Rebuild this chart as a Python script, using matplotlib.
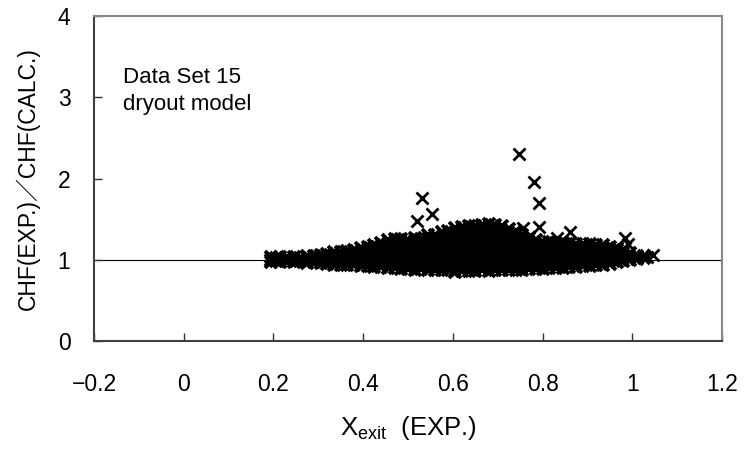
import matplotlib
matplotlib.use("Agg")
import matplotlib.pyplot as plt

plt.rcParams['font.family'] = ['Liberation Sans', 'Noto Sans CJK JP', 'DejaVu Sans']
plt.rcParams['mathtext.default'] = 'regular'

# ---- data ----
cloud_left = [
    (0.195, [0.97, 1.00, 1.03]),
    (0.205, [0.98, 1.02]),
    (0.215, [0.97, 1.00, 1.03]),
    (0.23, [0.98, 1.01, 1.03]),
    (0.245, [0.97, 1.00, 1.04]),
    (0.26, [0.98, 1.02]),
    (0.275, [0.96, 0.99, 1.03, 1.05]),
    (0.29, [0.97, 1.01, 1.05]),
    (0.305, [0.96, 0.99, 1.03, 1.06]),
    (0.32, [0.95, 0.99, 1.03, 1.07]),
    (0.335, [0.94, 0.98, 1.02, 1.06, 1.09]),
    (0.35, [0.93, 0.97, 1.01, 1.05, 1.10]),
    (0.365, [0.94, 0.98, 1.03, 1.07, 1.11]),
    (0.38, [0.93, 0.97, 1.01, 1.06, 1.12]),
    (0.395, [0.92, 0.96, 1.00, 1.05, 1.10, 1.14]),
]
cloud_mid = [
    (0.41, [0.92, 0.97, 1.02, 1.07, 1.12, 1.16]),
    (0.425, [0.91, 0.95, 1.00, 1.05, 1.10, 1.15, 1.18]),
    (0.44, [0.91, 0.96, 1.01, 1.06, 1.11, 1.16, 1.21]),
    (0.455, [0.90, 0.95, 1.00, 1.05, 1.10, 1.15, 1.20, 1.24]),
    (0.47, [0.90, 0.94, 0.99, 1.04, 1.09, 1.14, 1.19, 1.25]),
    (0.485, [0.89, 0.95, 1.00, 1.05, 1.10, 1.15, 1.21, 1.26]),
    (0.50, [0.89, 0.94, 0.99, 1.04, 1.09, 1.14, 1.19, 1.24]),
    (0.515, [0.88, 0.93, 0.98, 1.03, 1.08, 1.13, 1.18, 1.23, 1.27]),
    (0.53, [0.89, 0.94, 0.99, 1.04, 1.09, 1.14, 1.20, 1.26]),
    (0.545, [0.88, 0.93, 0.98, 1.03, 1.08, 1.14, 1.20, 1.25, 1.30]),
    (0.56, [0.88, 0.92, 0.97, 1.02, 1.07, 1.12, 1.18, 1.24, 1.31]),
    (0.575, [0.87, 0.93, 0.98, 1.03, 1.08, 1.14, 1.20, 1.27, 1.34]),
    (0.59, [0.87, 0.92, 0.97, 1.02, 1.08, 1.14, 1.21, 1.28, 1.36]),
    (0.605, [0.85, 0.90, 0.96, 1.01, 1.07, 1.13, 1.19, 1.26, 1.33, 1.39]),
    (0.62, [0.86, 0.91, 0.97, 1.03, 1.09, 1.15, 1.21, 1.28, 1.35, 1.40]),
    (0.635, [0.86, 0.92, 0.98, 1.04, 1.10, 1.16, 1.23, 1.30, 1.36, 1.41]),
    (0.65, [0.86, 0.91, 0.97, 1.03, 1.09, 1.15, 1.22, 1.29, 1.36, 1.42]),
    (0.665, [0.87, 0.93, 0.99, 1.05, 1.11, 1.18, 1.25, 1.32, 1.38, 1.43]),
    (0.68, [0.86, 0.92, 0.98, 1.04, 1.10, 1.17, 1.24, 1.31, 1.38, 1.44]),
    (0.695, [0.87, 0.93, 0.99, 1.05, 1.11, 1.17, 1.24, 1.31, 1.37, 1.43]),
]
cloud_right = [
    (0.71, [0.87, 0.92, 0.98, 1.04, 1.10, 1.16, 1.23, 1.30, 1.36, 1.41]),
    (0.725, [0.88, 0.94, 1.00, 1.06, 1.12, 1.18, 1.25, 1.32, 1.38]),
    (0.74, [0.88, 0.93, 0.99, 1.05, 1.11, 1.17, 1.23, 1.30, 1.36]),
    (0.755, [0.88, 0.94, 1.00, 1.06, 1.12, 1.18, 1.24, 1.30]),
    (0.77, [0.89, 0.94, 0.99, 1.05, 1.10, 1.16, 1.22, 1.27]),
    (0.785, [0.89, 0.95, 1.00, 1.06, 1.11, 1.17, 1.24]),
    (0.80, [0.89, 0.94, 1.00, 1.05, 1.10, 1.16, 1.22]),
    (0.815, [0.90, 0.95, 1.01, 1.06, 1.12, 1.17, 1.22]),
    (0.83, [0.90, 0.95, 1.00, 1.05, 1.11, 1.16, 1.21]),
    (0.845, [0.90, 0.96, 1.01, 1.07, 1.12, 1.18, 1.21]),
    (0.86, [0.91, 0.96, 1.02, 1.07, 1.13, 1.20]),
    (0.875, [0.91, 0.97, 1.02, 1.08, 1.13, 1.19]),
    (0.89, [0.92, 0.97, 1.03, 1.08, 1.14, 1.19]),
    (0.905, [0.92, 0.98, 1.03, 1.09, 1.14, 1.19]),
    (0.92, [0.93, 0.98, 1.04, 1.09, 1.14, 1.18]),
    (0.935, [0.93, 0.99, 1.04, 1.09, 1.14, 1.18]),
    (0.95, [0.95, 1.00, 1.05, 1.10, 1.16]),
    (0.965, [0.97, 1.02, 1.07, 1.12, 1.15]),
    (0.98, [0.99, 1.03, 1.08, 1.12]),
    (0.995, [1.00, 1.04, 1.08]),
    (1.01, [1.01, 1.05]),
    (1.025, [1.02, 1.05]),
]
outlier_x = [0.531, 0.553, 0.520, 0.747, 0.781, 0.792, 0.792, 0.756, 0.861, 0.832, 0.984, 0.991, 1.046, 1.033]
outlier_y = [1.76, 1.56, 1.48, 2.30, 1.96, 1.70, 1.40, 1.39, 1.34, 1.27, 1.27, 1.19, 1.06, 1.03]

x_ticks = [-0.2, 0, 0.2, 0.4, 0.6, 0.8, 1.0, 1.2]
x_tick_labels = ['\u22120.2', '0', '0.2', '0.4', '0.6', '0.8', '1', '1.2']
y_ticks = [0, 1, 2, 3, 4]
y_tick_labels = ['0', '1', '2', '3', '4']

# ---- figure ----
fig = plt.figure(figsize=(7.44, 4.58), dpi=100)
ax = fig.add_axes([94/744, (458-341)/458, (722-94)/744, (341-16)/458])

ax.axhline(1.0, color='black', lw=0.8, zorder=1)

xs, ys = [], []
for group in (cloud_left, cloud_mid, cloud_right):
    for xv, yl in group:
        for yv in yl:
            xs.append(xv)
            ys.append(yv)
ax.plot(xs, ys, linestyle='none', marker='x', ms=8.5, mew=2.7, color='black', zorder=3)
ax.plot(outlier_x, outlier_y, linestyle='none', marker='x', ms=8.5, mew=2.0, color='black', zorder=3)

ax.set_xlim(-0.2, 1.2)
ax.set_ylim(0, 4)
ax.set_xticks(x_ticks)
ax.set_xticklabels(x_tick_labels)
ax.set_yticks(y_ticks)
ax.set_yticklabels(y_tick_labels)
ax.tick_params(axis='x', direction='in', length=6, width=1, colors='#333333', labelcolor='black', labelsize=16.5, pad=23)
ax.tick_params(axis='y', direction='in', length=6, width=1, colors='#333333', labelcolor='black', labelsize=16.5, pad=17)

for s in ('left', 'bottom'):
    ax.spines[s].set_color('#404040')
    ax.spines[s].set_linewidth(1.5)
for s in ('top', 'right'):
    ax.spines[s].set_color('#888888')
    ax.spines[s].set_linewidth(1.5)

ax.text(-0.135, 3.17, 'Data Set 15', fontsize=16, va='baseline', ha='left')
ax.text(-0.135, 2.84, 'dryout model', fontsize=16, va='baseline', ha='left')

ax.set_ylabel('CHF(EXP.)\uff0fCHF(CALC.)', fontsize=16.5, labelpad=13)
ax.set_xlabel('$X_{exit}$  (EXP.)', fontsize=18.5, labelpad=13)

fig.savefig('out.png', dpi=100)
